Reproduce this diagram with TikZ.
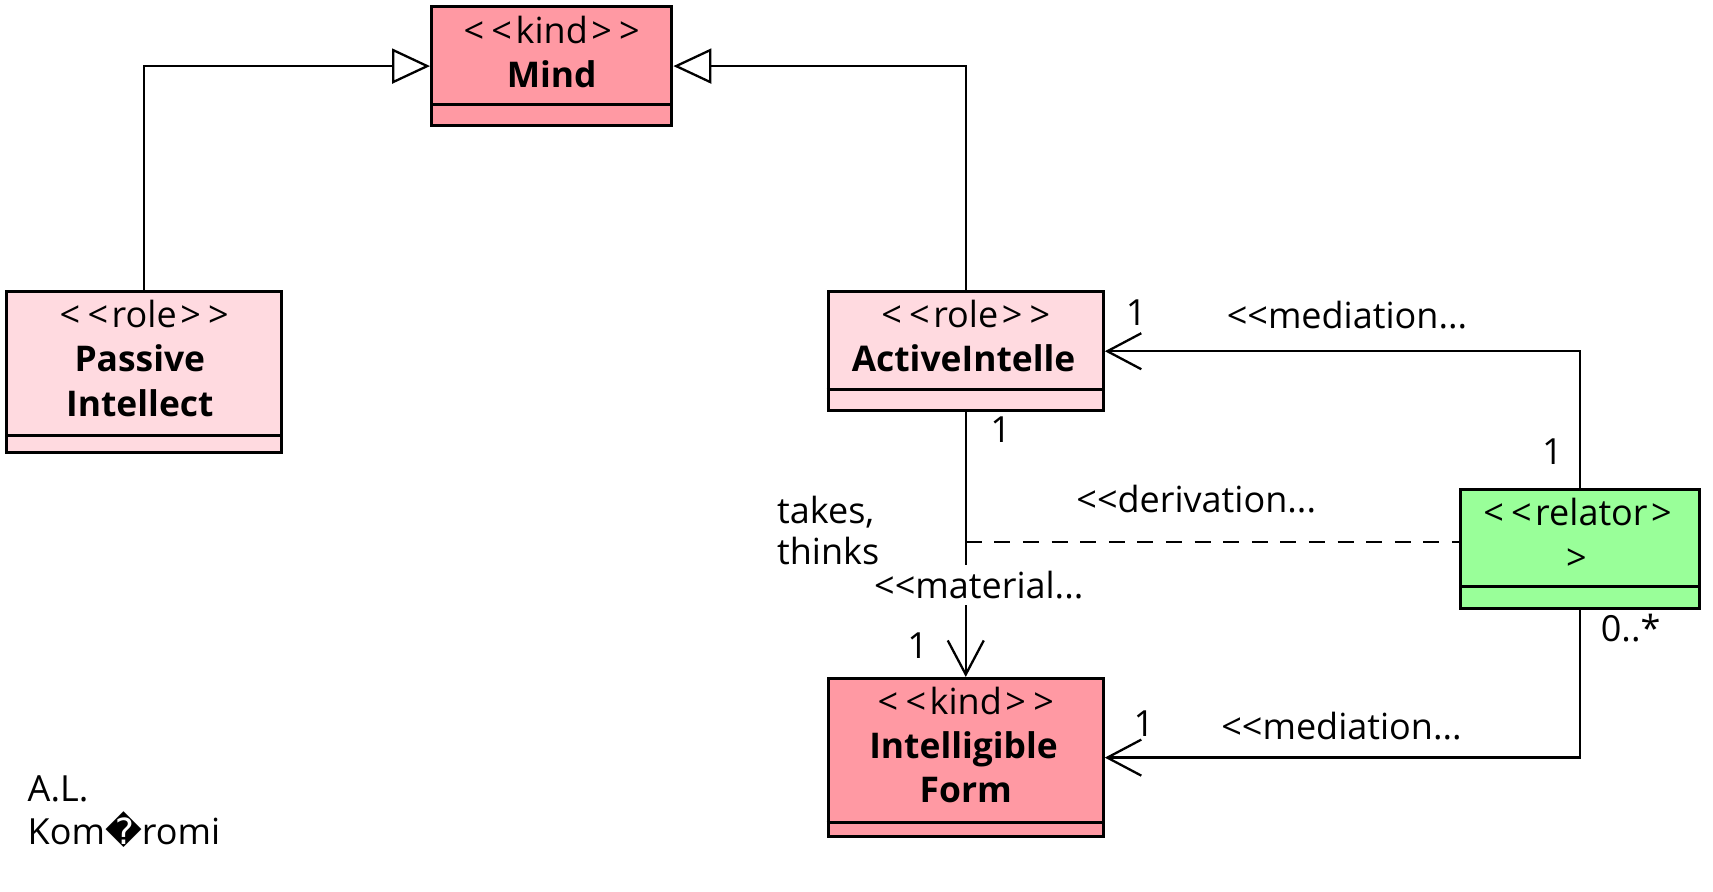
\documentclass[tikz,border=0pt]{standalone}
\usepackage{fontspec}
\setmainfont{Open Sans}[Ligatures=TeXOff]
\usetikzlibrary{arrows.meta}
\definecolor{kindc}{RGB}{255,153,163}
\definecolor{rolec}{RGB}{255,218,224}
\definecolor{relc}{RGB}{153,255,153}
\newcommand\myL{\kern1.8pt<\kern1.8pt}
\newcommand\myR{\kern1.8pt>\kern1.8pt}
\begin{document}
\begin{tikzpicture}[x=0.54625pt,y=-0.54625pt,
  font=\fontsize{18}{22}\selectfont,
  cls/.style={draw, line width=1.5pt, inner sep=0pt},
  cline/.style={line width=1.5pt},
  tl/.style={inner sep=0pt, anchor=base},
  bt/.style={tl, font=\fontsize{17.7}{22}\selectfont\bfseries},
  lbl/.style={inner sep=0pt, anchor=base},
  conn/.style={line width=1.15pt},
  gen/.style={conn, -{Triangle[open,length=19pt,width=17.5pt,line width=1.15pt]}},
  nav/.style={conn, -{Straight Barb[length=17pt,width=18pt,line width=1.15pt]}}]
\useasboundingbox (0,0) rectangle (1568,816);
% classes
\node[cls, fill=kindc, minimum width=120.2pt, minimum height=59.5pt] (mind) at (505,60.5) {};
\draw[cline] ([yshift=11.5pt]mind.south west) -- ([yshift=11.5pt]mind.south east);
\node[tl] (mindst) at (505,40) {\myL\myL kind\myR\myR};
\node[bt] (mindnm) at (505,80) {Mind};

\node[cls, fill=rolec, minimum width=137.6pt, minimum height=80.3pt] (passive) at (132,340.5) {};
\draw[cline] ([yshift=9pt]passive.south west) -- ([yshift=9pt]passive.south east);
\node[tl] (passst) at (132,300) {\myL\myL role\myR\myR};
\node[bt] (passn1) at (128,340) {Passive};
\node[bt] (passn2) at (128,381) {Intellect};

\node[cls, fill=rolec, minimum width=137.6pt, minimum height=59.5pt] (active) at (884,321.5) {};
\draw[cline] ([yshift=11.5pt]active.south west) -- ([yshift=11.5pt]active.south east);
\node[tl] (actst) at (884,300) {\myL\myL role\myR\myR};
\node[bt] (actnm) at (882,340) {ActiveIntelle};

\node[cls, fill=relc, minimum width=119.6pt, minimum height=59.5pt] (relator) at (1446.5,502.5) {};
\draw[cline] ([yshift=11.5pt]relator.south west) -- ([yshift=11.5pt]relator.south east);
\node[tl] (relst1) at (1444,481) {\myL\myL relator\myR};
\node[tl] (relst2) at (1443,522) {\myR};

\node[cls, fill=kindc, minimum width=137.6pt, minimum height=79.2pt] (iform) at (884,693.5) {};
\draw[cline] ([yshift=7.8pt]iform.south west) -- ([yshift=7.8pt]iform.south east);
\node[tl] (ifst) at (884,654) {\myL\myL kind\myR\myR};
\node[bt] (ifn1) at (882,694) {Intelligible};
\node[bt] (ifn2) at (884,735) {Form};

% generalizations
\draw[gen] (passive.north) |- (mind.west);
\draw[gen] (active.north) |- (mind.east);

% mediations
\draw[nav] (relator.north) |- (active.east);
\draw[nav] (relator.south) |- (iform.east);
\node[lbl] (m1a) at (1040,298) {1};
\node[lbl] (m1n) at (1233,301) {<<mediation...};
\node[lbl] (m1b) at (1421,425) {1};
\node[lbl, anchor=base west] (m2a) at (1465,587) {0..*};
\node[lbl] (m2b) at (1047,674) {1};
\node[lbl] (m2n) at (1228,677) {<<mediation...};

% material
\draw[nav] (active) -- (iform);
\coordinate (dstart) at (884,496);
\draw[conn, dash pattern=on 8pt off 6.3pt] (dstart) -- (dstart -| relator.west);
\node[lbl, fill=white, inner ysep=3pt, inner xsep=1pt] (matn) at (896,548) {<<material...};
\node[lbl] (mat1a) at (916,405) {1};
\node[lbl] (mat1b) at (840,603) {1};
\node[lbl, anchor=base west] (tk1) at (711,479) {takes,};
\node[lbl, anchor=base west] (tk2) at (711,517) {thinks};
\node[lbl] (dern) at (1095,469) {<<derivation...};

% author
\node[lbl, anchor=base west] (au1) at (25,734) {A.L.};
\node[lbl, anchor=base west] (au2) at (25,773) {Kom{\fontspec{DejaVu Sans}\symbol{"FFFD}}romi};
\end{tikzpicture}
\end{document}
